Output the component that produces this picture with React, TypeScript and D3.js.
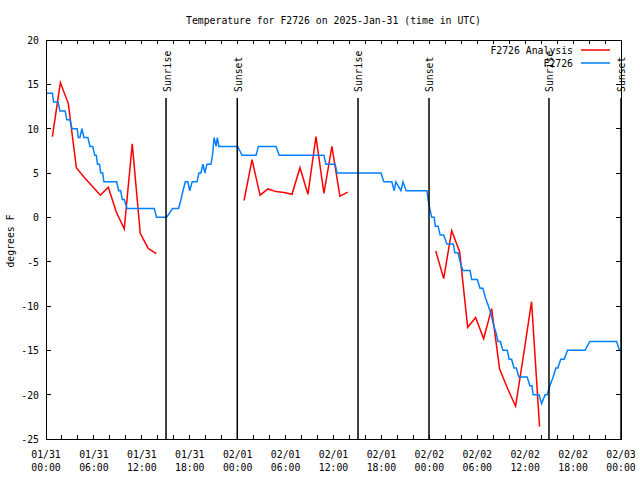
import React from "react";
import * as d3 from "d3";

const TITLE = "Temperature for F2726 on 2025-Jan-31 (time in UTC)";
const Y_LABEL = "degrees F";
const START = Date.UTC(2025, 0, 31, 0, 0);
const END = Date.UTC(2025, 1, 3, 0, 0);
const Y_TICKS = [20, 15, 10, 5, 0, -5, -10, -15, -20, -25];
const SERIES_NAMES = ["F2726 Analysis", "F2726"];
const SERIES_COLORS = ["#ff0000", "#0080ff"];

// Observations (hours since 01/31 00:00 UTC, degrees F)
const OBS_HOURS = [
  0, 0.8, 0.95, 1.5, 1.75, 2.4, 2.6, 3.0, 3.25, 3.9, 4.05, 4.25, 4.5, 4.75, 5.25,
  5.5, 5.85, 6.1, 6.3, 6.45, 6.7, 6.85, 7.1, 7.25, 8.85, 9.1, 9.35, 9.55, 9.8,
  10.15, 13.55, 13.85, 15.1, 15.85, 16.6, 16.9, 17.15, 17.45, 17.75, 18.0, 18.3,
  18.9, 19.15, 19.4, 19.65, 19.9, 20.15, 20.65, 20.85, 21.05, 21.3, 21.45, 21.65,
  24.0, 24.55, 26.3, 26.6, 28.8, 29.2, 34.8, 35.05, 36.2, 36.45, 41.95, 42.3,
  43.3, 43.6, 43.8, 44.45, 44.7, 45.1, 47.7, 47.85, 48.05, 48.3, 48.6, 48.75,
  49.1, 49.35, 49.8, 50.2, 51.0, 51.2, 51.6, 51.85, 52.2, 53.1, 53.3, 54.0,
  54.35, 54.7, 55.0, 55.4, 55.75, 56.0, 56.35, 56.6, 56.9, 57.2, 57.75, 58.0,
  58.3, 58.6, 58.9, 59.2, 60.25, 60.6, 60.85, 61.0, 61.75, 62.05, 62.5, 62.75,
  63.1, 63.5, 63.85, 64.1, 64.45, 64.9, 65.3, 67.5, 68.1, 71.45, 71.8,
];
const OBS_TEMPS = [
  14, 14, 13, 13, 12, 12, 11, 11, 10, 10, 9, 9, 10, 9, 9,
  8, 8, 7, 7, 6, 6, 5, 5, 4, 4, 3, 3, 2, 2,
  1, 1, 0, 0, 1, 1, 2, 3, 4, 4, 3, 4,
  4, 5, 5, 6, 5, 6, 6, 7, 9, 8, 9, 8,
  8, 7, 7, 8, 8, 7, 7, 6, 6, 5, 5, 4,
  4, 3, 4, 3, 4, 3, 3, 2, 1, 0, 0, -1,
  -1, -2, -2, -3, -3, -4, -4, -5, -6, -6, -7, -7,
  -8, -8, -9, -10, -11, -12, -13, -14, -14, -15, -15, -16,
  -16, -17, -17, -18, -18, -19, -19, -20, -20, -21, -20, -20,
  -19, -18, -17, -17, -16, -16, -15, -15, -14, -14, -15,
];

// Analysis (hourly, three separate runs)
const ANALYSIS_HOURS = [
  0.8, 1.8, 2.8, 3.8, 4.8, 5.8, 6.8, 7.8, 8.8, 9.8, 10.8, 11.8, 12.8, 13.8,
  24.8, 25.8, 26.8, 27.8, 28.8, 29.8, 30.8, 31.8, 32.8, 33.8, 34.8, 35.8, 36.8, 37.8,
  48.8, 49.8, 50.8, 51.8, 52.8, 53.8, 54.8, 55.8, 56.8, 57.8, 58.8, 59.8, 60.8, 61.8,
];
const ANALYSIS_TEMPS = [
  9.1, 15.2, 12.8, 5.6, 4.5, 3.5, 2.5, 3.4, 0.6, -1.3, 8.3, -1.8, -3.5, -4.1,
  1.9, 6.5, 2.5, 3.2, 2.9, 2.8, 2.6, 5.6, 2.6, 9.1, 2.7, 8.0, 2.4, 2.85,
  -3.8, -6.9, -1.5, -3.9, -12.4, -11.3, -13.7, -10.3, -17.1, -19.3, -21.3, -15.5, -9.5, -23.6,
];

const SUN_LABELS = ["Sunrise", "Sunset", "Sunrise", "Sunset", "Sunrise", "Sunset"];
const SUN_HOURS = [15.03, 23.95, 39.07, 47.96, 62.98, 72.0];

const W = 640;
const H = 480;
const PL = 46;
const PR = 621;
const PT = 40;
const PB = 439;
const FONT = "'DejaVu Sans Mono', 'Liberation Mono', monospace";
const CW = 5.9;

const toDate = (h: number) => new Date(START + h * 3600e3);

function T(props: {
  x: number;
  y: number;
  text: string;
  anchor?: string;
  rotate?: number;
}) {
  const { x, y, text, anchor = "start", rotate = 0 } = props;
  return (
    <text
      transform={`translate(${x},${y}) rotate(${rotate})`}
      textAnchor={anchor}
      dy="0.36em"
      fontFamily={FONT}
      fontSize={11}
      textLength={text.length * CW}
      lengthAdjust="spacingAndGlyphs"
      fill="#000"
    >
      {text}
    </text>
  );
}

export default function App() {
  const x = d3.scaleUtc().domain([new Date(START), new Date(END)]).range([PL, PR]);
  const y = d3.scaleLinear().domain([-25, 20]).range([PB, PT]);

  const obs = OBS_HOURS.map((h, i) => ({ t: toDate(h), v: OBS_TEMPS[i] }));
  const analysisSegments: { t: Date; v: number }[][] = [];
  ANALYSIS_HOURS.forEach((h, i) => {
    const prev = i > 0 ? ANALYSIS_HOURS[i - 1] : -99;
    if (h - prev > 1.5) analysisSegments.push([]);
    analysisSegments[analysisSegments.length - 1].push({ t: toDate(h), v: ANALYSIS_TEMPS[i] });
  });

  const line = d3
    .line<{ t: Date; v: number }>()
    .x((d) => x(d.t))
    .y((d) => y(d.v));

  const minorTicks = x.ticks(d3.utcHour.every(2) as any);
  const labelTicks = x.ticks(d3.utcHour.every(6) as any);
  const fmtDate = d3.utcFormat("%m/%d");
  const fmtTime = d3.utcFormat("%H:%M");

  return (
    <svg
      width={W}
      height={H}
      style={{ position: "absolute", left: 0, top: 0, background: "#fff" }}
    >
      <rect x={0} y={0} width={W} height={H} fill="#fff" />
      {/* ticks */}
      <g stroke="#000" strokeWidth={1} shapeRendering="crispEdges">
        {minorTicks.map((d, i) => (
          <g key={"xt" + i}>
            <line x1={x(d)} x2={x(d)} y1={PB} y2={PB - 4} />
            <line x1={x(d)} x2={x(d)} y1={PT} y2={PT + 4} />
          </g>
        ))}
        {Y_TICKS.map((v) => (
          <g key={"yt" + v}>
            <line x1={PL} x2={PL + 5} y1={y(v)} y2={y(v)} />
            <line x1={PR} x2={PR - 5} y1={y(v)} y2={y(v)} />
          </g>
        ))}
      </g>
      {/* data */}
      {analysisSegments.map((seg, i) => (
        <path
          key={"a" + i}
          d={line(seg) || ""}
          fill="none"
          stroke={SERIES_COLORS[0]}
          strokeWidth={1.5}
        />
      ))}
      <path d={line(obs) || ""} fill="none" stroke={SERIES_COLORS[1]} strokeWidth={1.5} />
      {/* sun events */}
      {SUN_HOURS.map((h, i) => {
        const sx = x(toDate(h));
        return (
          <g key={"sun" + i}>
            <line x1={sx} x2={sx} y1={98} y2={PB} stroke="#000" strokeWidth={1.5} />
            <T x={sx + 0.5} y={92} text={SUN_LABELS[i]} anchor="start" rotate={-90} />
          </g>
        );
      })}
      {/* frame */}
      <rect
        x={PL}
        y={PT}
        width={PR - PL}
        height={PB - PT}
        fill="none"
        stroke="#000"
        strokeWidth={1}
        shapeRendering="crispEdges"
      />
      {/* axis labels */}
      {Y_TICKS.map((v) => (
        <T key={"yl" + v} x={39} y={y(v)} text={String(v)} anchor="end" />
      ))}
      {labelTicks.map((d, i) => (
        <g key={"xl" + i}>
          <T x={x(d)} y={454.5} text={fmtDate(d)} anchor="middle" />
          <T x={x(d)} y={467} text={fmtTime(d)} anchor="middle" />
        </g>
      ))}
      <T x={(PL + PR) / 2} y={20} text={TITLE} anchor="middle" />
      <T x={10} y={241} text={Y_LABEL} anchor="middle" rotate={-90} />
      {/* legend */}
      {SERIES_NAMES.map((name, i) => (
        <g key={"lg" + i}>
          <T x={573} y={50 + i * 13} text={name} anchor="end" />
          <line
            x1={581}
            x2={610}
            y1={50 + i * 13}
            y2={50 + i * 13}
            stroke={SERIES_COLORS[i]}
            strokeWidth={1.5}
          />
        </g>
      ))}
    </svg>
  );
}
